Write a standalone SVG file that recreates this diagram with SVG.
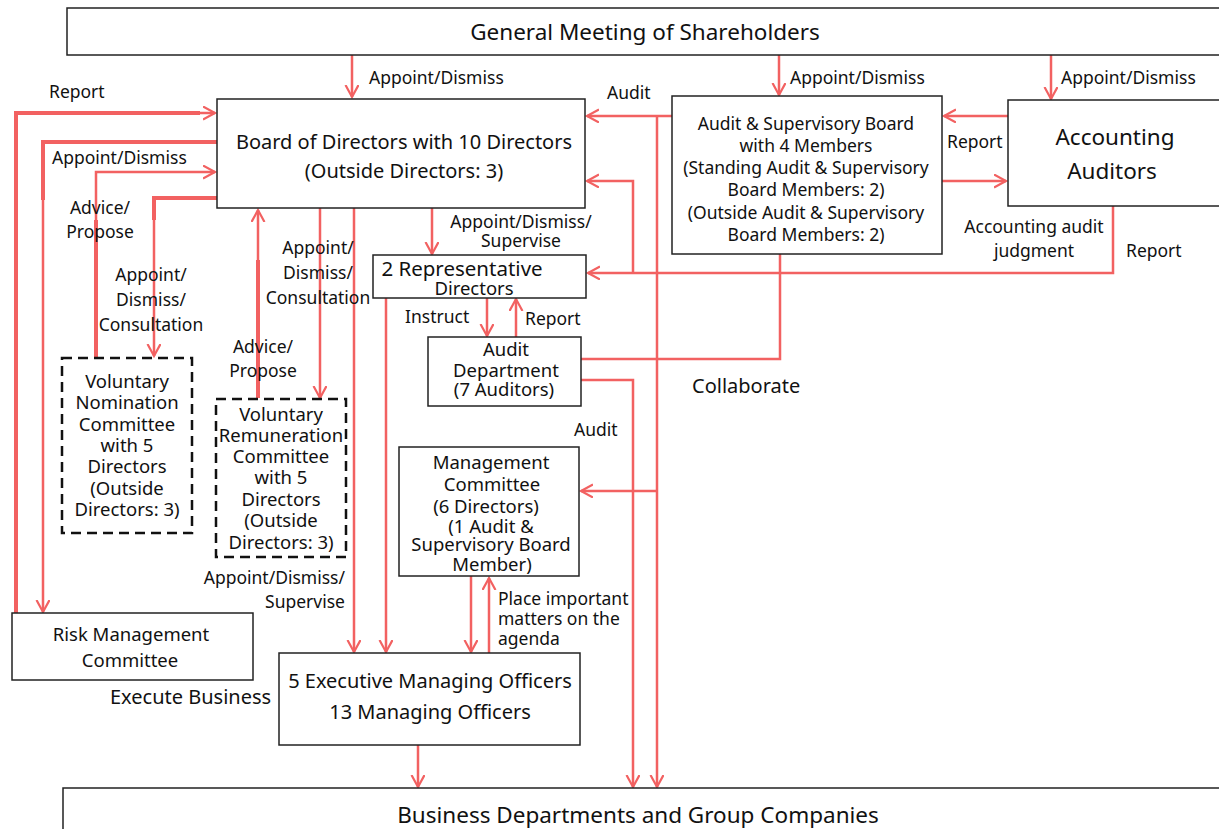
<svg xmlns="http://www.w3.org/2000/svg" width="1219" height="829" viewBox="0 0 1219 829">
<style>
.box{fill:#fff;stroke:#222;stroke-width:1.5}
.dash{fill:#fff;stroke:#111;stroke-width:2.5;stroke-dasharray:10,6}
.t{font-family:"Noto Sans","Open Sans",sans-serif;fill:#111}
.s16{font-size:17.5px}
.s18{font-size:18.5px}
.s19{font-size:20px}
.s22{font-size:22.5px}
.c{fill:none;stroke:#f26161;stroke-width:2.5}
.ck{fill:none;stroke:#f26161;stroke-width:4}
</style>
<defs>
<marker id="a" markerUnits="userSpaceOnUse" markerWidth="16" markerHeight="16" refX="12" refY="7" orient="auto" viewBox="0 0 16 16">
<path d="M0,0.5 L12,7 L0,13.5" fill="none" stroke="#f26161" stroke-width="2.2"/>
</marker>
</defs>
<rect width="1219" height="829" fill="#fff"/>

<g id="connectors">
<path class="c" d="M352,55 V97" marker-end="url(#a)"/>
<path class="c" d="M779,55 V95" marker-end="url(#a)"/>
<path class="c" d="M1051,55 V99" marker-end="url(#a)"/>
<path class="ck" d="M16,613 V113 H200"/>
<path class="c" d="M16,113 H215" marker-end="url(#a)"/>
<path class="ck" d="M217,142 H43 V200"/>
<path class="c" d="M43,200 V612" marker-end="url(#a)"/>
<path class="ck" d="M96,357 V220"/>
<path class="c" d="M96,220 V172 H215" marker-end="url(#a)"/>
<path class="ck" d="M217,198 H154 V220"/>
<path class="c" d="M154,220 V356" marker-end="url(#a)"/>
<path class="ck" d="M258,398 V260"/>
<path class="c" d="M258,260 V210" marker-end="url(#a)"/>
<path class="c" d="M320,208 V398" marker-end="url(#a)"/>
<path class="c" d="M354,208 V652" marker-end="url(#a)"/>
<path class="c" d="M432,208 V254" marker-end="url(#a)"/>
<path class="c" d="M386,298 V652" marker-end="url(#a)"/>
<path class="c" d="M487,298 V336" marker-end="url(#a)"/>
<path class="c" d="M516,337 V299" marker-end="url(#a)"/>
<path class="c" d="M672,116 H587" marker-end="url(#a)"/>
<path class="c" d="M657,116 V787" marker-end="url(#a)"/>
<path class="c" d="M657,491 H581" marker-end="url(#a)"/>
<path class="c" d="M1113,206 V273 H588" marker-end="url(#a)"/>
<path class="c" d="M633,273 V181 H587" marker-end="url(#a)"/>
<path class="c" d="M1008,116 H944" marker-end="url(#a)"/>
<path class="c" d="M942,181 H1006" marker-end="url(#a)"/>
<path class="c" d="M780,254 V359 H581"/>
<path class="c" d="M581,380 H633 V787" marker-end="url(#a)"/>
<path class="c" d="M418,745 V787" marker-end="url(#a)"/>
<path class="c" d="M471,576 V652" marker-end="url(#a)"/>
<path class="c" d="M489,653 V578" marker-end="url(#a)"/>
</g>

<g id="gm">
<rect class="box" x="67" y="8" width="1160" height="47"/>
<text class="t s22" x="645" y="40" text-anchor="middle">General Meeting of Shareholders</text>
</g>
<g id="board">
<rect class="box" x="217" y="99" width="368" height="109"/>
<text class="t s19" x="404" y="149" text-anchor="middle">Board of Directors with 10 Directors</text>
<text class="t s19" x="404" y="178" text-anchor="middle">(Outside Directors: 3)</text>
</g>
<g id="asb">
<rect class="box" x="672" y="96" width="270" height="158"/>
<text class="t s16" x="806" y="130" text-anchor="middle">Audit &amp; Supervisory Board</text>
<text class="t s16" x="806" y="152" text-anchor="middle">with 4 Members</text>
<text class="t s16" x="806" y="174" text-anchor="middle">(Standing Audit &amp; Supervisory</text>
<text class="t s16" x="806" y="196" text-anchor="middle">Board Members: 2)</text>
<text class="t s16" x="806" y="219" text-anchor="middle">(Outside Audit &amp; Supervisory</text>
<text class="t s16" x="806" y="241" text-anchor="middle">Board Members: 2)</text>
</g>
<g id="acc">
<rect class="box" x="1008" y="100" width="220" height="106"/>
<text class="t s22" x="1115" y="145" text-anchor="middle">Accounting</text>
<text class="t s22" x="1112" y="179" text-anchor="middle">Auditors</text>
</g>
<g id="rep">
<rect class="box" x="373" y="255" width="213" height="43"/>
<text class="t" style="font-size:20.5px" x="462" y="276" text-anchor="middle">2 Representative</text>
<text class="t s18" x="474" y="295" text-anchor="middle">Directors</text>
</g>
<g id="auditdept">
<rect class="box" x="428" y="337" width="153" height="69"/>
<text class="t s18" x="506" y="356" text-anchor="middle">Audit</text>
<text class="t s18" x="506" y="377" text-anchor="middle">Department</text>
<text class="t s18" x="504" y="396" text-anchor="middle">(7 Auditors)</text>
</g>
<g id="mgmt">
<rect class="box" x="399" y="447" width="180" height="129"/>
<text class="t s18" x="491" y="469" text-anchor="middle">Management</text>
<text class="t s18" x="492" y="491" text-anchor="middle">Committee</text>
<text class="t s18" x="486" y="513" text-anchor="middle">(6 Directors)</text>
<text class="t s18" x="491" y="533" text-anchor="middle">(1 Audit &amp;</text>
<text class="t s18" x="491" y="551" text-anchor="middle">Supervisory Board</text>
<text class="t s18" x="492" y="571" text-anchor="middle">Member)</text>
</g>
<g id="nom">
<rect class="dash" x="62" y="358" width="130" height="175"/>
<text class="t s18" x="127" y="388" text-anchor="middle">Voluntary</text>
<text class="t s18" x="127" y="409" text-anchor="middle">Nomination</text>
<text class="t s18" x="127" y="431" text-anchor="middle">Committee</text>
<text class="t s18" x="127" y="452" text-anchor="middle">with 5</text>
<text class="t s18" x="127" y="473" text-anchor="middle">Directors</text>
<text class="t s18" x="127" y="495" text-anchor="middle">(Outside</text>
<text class="t s18" x="127" y="516" text-anchor="middle">Directors: 3)</text>
</g>
<g id="rem">
<rect class="dash" x="216" y="399" width="130" height="158"/>
<text class="t s18" x="281" y="421" text-anchor="middle">Voluntary</text>
<text class="t s18" x="281" y="442" text-anchor="middle">Remuneration</text>
<text class="t s18" x="281" y="463" text-anchor="middle">Committee</text>
<text class="t s18" x="281" y="484" text-anchor="middle">with 5</text>
<text class="t s18" x="281" y="506" text-anchor="middle">Directors</text>
<text class="t s18" x="281" y="527" text-anchor="middle">(Outside</text>
<text class="t s18" x="281" y="549" text-anchor="middle">Directors: 3)</text>
</g>
<g id="risk">
<rect class="box" x="12" y="613" width="241" height="67"/>
<text class="t s18" x="131" y="641" text-anchor="middle">Risk Management</text>
<text class="t s18" x="130" y="667" text-anchor="middle">Committee</text>
</g>
<g id="exec">
<rect class="box" x="279" y="653" width="301" height="92"/>
<text class="t s19" x="430" y="688" text-anchor="middle">5 Executive Managing Officers</text>
<text class="t s19" x="430" y="719" text-anchor="middle">13 Managing Officers</text>
</g>
<g id="biz">
<rect class="box" x="63" y="788" width="1170" height="50"/>
<text class="t s22" x="638" y="823" text-anchor="middle">Business Departments and Group Companies</text>
</g>

<g id="labels">
<text class="t s16" x="369" y="84">Appoint/Dismiss</text>
<text class="t s16" x="790" y="84">Appoint/Dismiss</text>
<text class="t s16" x="1061" y="84">Appoint/Dismiss</text>
<text class="t s16" x="49" y="98">Report</text>
<text class="t s16" x="52" y="164">Appoint/Dismiss</text>
<text class="t s16" x="100" y="214" text-anchor="middle">Advice/</text>
<text class="t s16" x="100" y="238" text-anchor="middle">Propose</text>
<text class="t s16" x="151" y="281" text-anchor="middle">Appoint/</text>
<text class="t s16" x="151" y="306" text-anchor="middle">Dismiss/</text>
<text class="t s16" x="151" y="331" text-anchor="middle">Consultation</text>
<text class="t s16" x="318" y="254" text-anchor="middle">Appoint/</text>
<text class="t s16" x="318" y="279" text-anchor="middle">Dismiss/</text>
<text class="t s16" x="318" y="304" text-anchor="middle">Consultation</text>
<text class="t s16" x="263" y="353" text-anchor="middle">Advice/</text>
<text class="t s16" x="263" y="377" text-anchor="middle">Propose</text>
<text class="t s16" x="345" y="584" text-anchor="end">Appoint/Dismiss/</text>
<text class="t s16" x="345" y="608" text-anchor="end">Supervise</text>
<text class="t s16" x="521" y="228" text-anchor="middle">Appoint/Dismiss/</text>
<text class="t s16" x="521" y="247" text-anchor="middle">Supervise</text>
<text class="t s16" x="405" y="323">Instruct</text>
<text class="t s16" x="525" y="325">Report</text>
<text class="t s16" x="607" y="99">Audit</text>
<text class="t s16" x="947" y="148">Report</text>
<text class="t s16" x="1034" y="233" text-anchor="middle">Accounting audit</text>
<text class="t s16" x="1034" y="257" text-anchor="middle">judgment</text>
<text class="t s16" x="1126" y="257">Report</text>
<text class="t s19" x="692" y="393">Collaborate</text>
<text class="t s16" x="574" y="436">Audit</text>
<text class="t s16" x="498" y="605">Place important</text>
<text class="t s16" x="498" y="625">matters on the</text>
<text class="t s16" x="498" y="645">agenda</text>
<text class="t s19" x="110" y="704">Execute Business</text>
</g>
</svg>
